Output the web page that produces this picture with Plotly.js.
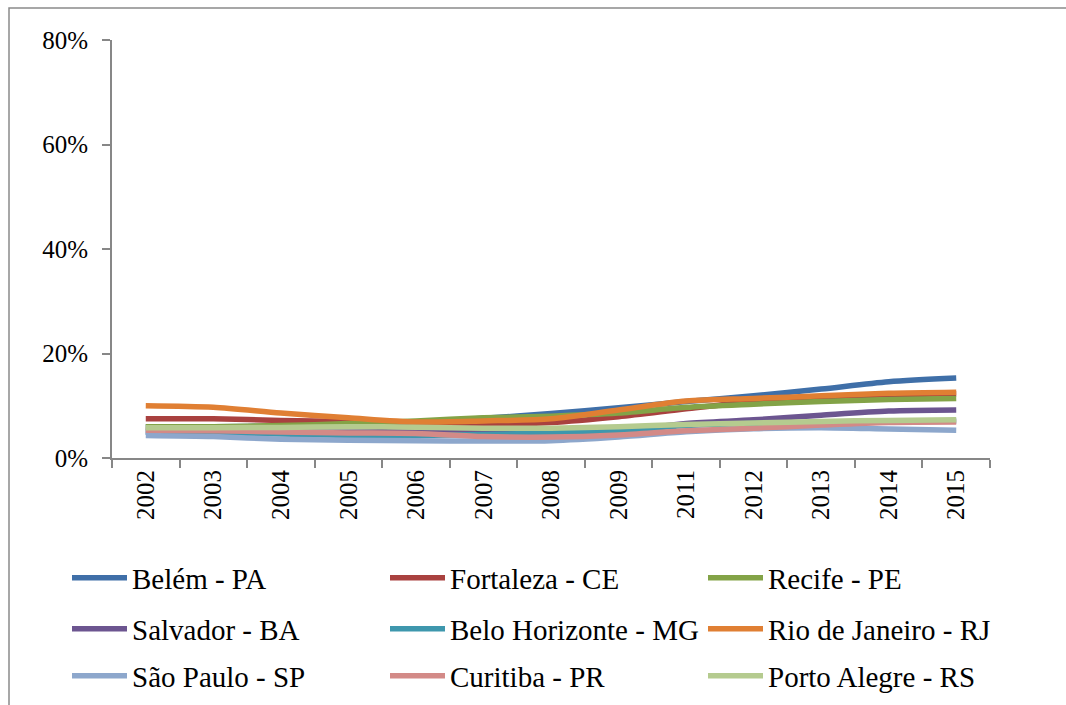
<!DOCTYPE html>
<html>
<head>
<meta charset="utf-8">
<script src="https://cdn.plot.ly/plotly-3.0.1.min.js"></script>
<style>html,body{margin:0;padding:0;background:#fff;}#chart{width:1066px;height:705px;}</style>
</head>
<body>
<div id="chart"></div>
<script>
const years = ["2002","2003","2004","2005","2006","2007","2008","2009","2011","2012","2013","2014","2015"];
const belem      = [0.060,0.060,0.061,0.063,0.068,0.076,0.085,0.096,0.108,0.119,0.132,0.146,0.153];
const fortaleza  = [0.075,0.075,0.072,0.070,0.068,0.065,0.068,0.079,0.094,0.108,0.116,0.121,0.123];
const recife     = [0.060,0.060,0.062,0.066,0.071,0.077,0.080,0.086,0.097,0.103,0.108,0.112,0.114];
const salvador   = [0.050,0.050,0.050,0.050,0.050,0.049,0.049,0.052,0.066,0.073,0.082,0.090,0.092];
const beloHoriz  = [0.050,0.0485,0.046,0.043,0.043,0.045,0.048,0.052,0.062,0.066,0.068,0.070,0.071];
const rio        = [0.100,0.097,0.086,0.077,0.069,0.071,0.075,0.092,0.109,0.114,0.119,0.124,0.126];
const saoPaulo   = [0.043,0.041,0.036,0.034,0.033,0.0325,0.033,0.040,0.050,0.056,0.058,0.0555,0.053];
const curitiba   = [0.053,0.052,0.050,0.048,0.047,0.041,0.040,0.044,0.052,0.057,0.063,0.068,0.069];
const portoAlegre= [0.058,0.058,0.0585,0.060,0.059,0.057,0.057,0.060,0.064,0.067,0.070,0.072,0.073];

const seriesNames = ["Belém - PA","Fortaleza - CE","Recife - PE","Salvador - BA","Belo Horizonte - MG","Rio de Janeiro - RJ","São Paulo - SP","Curitiba - PR","Porto Alegre - RS"];
const seriesData = [belem,fortaleza,recife,salvador,beloHoriz,rio,saoPaulo,curitiba,portoAlegre];
const colors = ["#3F6FA8","#A9413F","#83A347","#6C5590","#3E97AD","#E07F33","#8DA7CC","#D38A87","#B5CB8F"];
const legendIds = ["legend","legend","legend","legend2","legend2","legend2","legend3","legend3","legend3"];

const traces = seriesData.map((d, i) => ({
  type: 'scatter', mode: 'lines', x: years, y: d, name: seriesNames[i],
  line: {color: colors[i], width: 5.5, shape: 'spline', smoothing: 0.8},
  legend: legendIds[i], hoverinfo: 'skip'
}));

const fontFam = '"Liberation Serif", "Times New Roman", serif';
const px = v => (v-112)/878, py = v => (458-v)/418;

const legBase = {orientation:'h', xanchor:'left', yanchor:'middle', x:px(67),
  entrywidth:248, entrywidthmode:'pixels', itemwidth:55, traceorder:'normal',
  font:{family:fontFam,size:29,color:'#000'}, bgcolor:'rgba(0,0,0,0)', borderwidth:0, itemclick:false};

const layout = {
  width:1066, height:705,
  margin:{l:112, r:76, t:40, b:247, autoexpand:false},
  paper_bgcolor:'#fff', plot_bgcolor:'#fff',
  font:{family:fontFam, size:25, color:'#000'},
  showlegend:true,
  xaxis:{type:'category', showgrid:false, zeroline:false, showline:true, linecolor:'#878787', linewidth:2,
    ticks:'outside', ticklen:8, tickcolor:'#878787', tickwidth:2, tickson:'boundaries',
    tickangle:-90, tickfont:{family:fontFam,size:25,color:'#000'}, range:[-0.5,12.5]},
  yaxis:{range:[0,0.8], tickvals:[0,0.2,0.4,0.6,0.8], ticktext:["0%","20%","40%","60%","80%"],
    showgrid:false, zeroline:false, showline:true, linecolor:'#878787', linewidth:2,
    ticks:'outside', ticklen:8, tickcolor:'#878787', tickwidth:2, ticklabelstandoff:9,
    tickfont:{family:fontFam,size:25,color:'#000'}},
  legend: Object.assign({}, legBase, {y:py(578)}),
  legend2: Object.assign({}, legBase, {y:py(629)}),
  legend3: Object.assign({}, legBase, {y:py(676)}),
  shapes:[{type:'rect', xref:'paper', yref:'paper', x0:px(9), x1:px(1090), y0:py(8), y1:py(730),
    line:{color:'#8a8a8a', width:1.5}, fillcolor:'rgba(0,0,0,0)', layer:'below'}]
};

Plotly.newPlot('chart', traces, layout, {staticPlot:true, displayModeBar:false});
</script>
</body>
</html>
